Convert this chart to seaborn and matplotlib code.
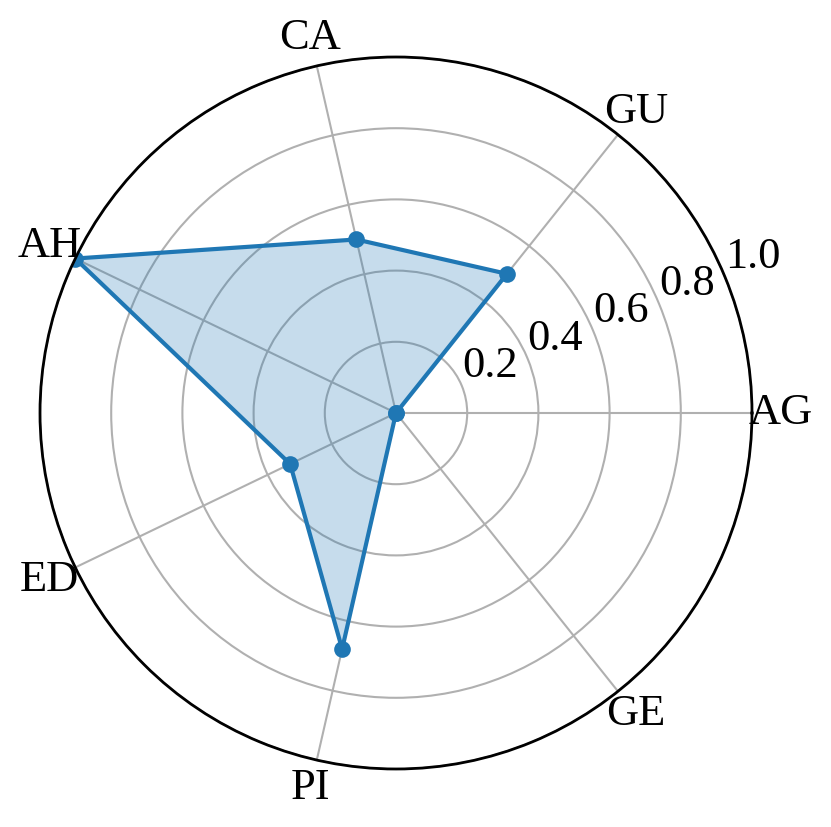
import numpy as np
import pandas as pd
import seaborn as sns
import matplotlib
matplotlib.use("Agg")
import matplotlib.pyplot as plt

categories = ["AG", "GU", "CA", "AH", "ED", "PI", "GE"]
values = [0.0, 0.5, 0.5, 1.0, 0.33, 0.68, 0.0]
r_ticks = [0.2, 0.4, 0.6, 0.8, 1.0]

sns.set_style("white")
plt.rcParams['font.family'] = ['Liberation Serif', 'DejaVu Serif']
plt.rcParams['font.size'] = 32
plt.rcParams['text.color'] = 'black'
plt.rcParams['xtick.color'] = 'black'
plt.rcParams['ytick.color'] = 'black'

angles = np.linspace(0, 2 * np.pi, len(categories), endpoint=False)
df = pd.DataFrame({
    "angle": np.append(angles, angles[0]),
    "value": values + values[:1],
})

fig = plt.figure(figsize=(8.31, 8.27), dpi=100)
ax = fig.add_axes([40 / 831, 58 / 827, 712 / 831, 712 / 827], projection="polar")

sns.lineplot(data=df, x="angle", y="value", sort=False, ax=ax,
             color="#1f77b4", linewidth=3, marker="o", markersize=12,
             markeredgewidth=0)
ax.fill(df["angle"], df["value"], color="#1f77b4", alpha=0.25, linewidth=0)

ax.set_ylim(0, 1)
ax.set_xticks(angles)
ax.set_xticklabels(categories, fontsize=32, color="black")
ax.set_yticks(r_ticks)
ax.set_yticklabels([f"{t:.1f}" for t in r_ticks], fontsize=32, color="black")
ax.set_rlabel_position(22.5)
ax.grid(True, color="#b0b0b0", linewidth=1.5)
ax.spines["polar"].set_color("black")
ax.spines["polar"].set_linewidth(2)
ax.set_xlabel("")
ax.set_ylabel("")
ax.tick_params(axis="x", pad=10)

fig.savefig("out.png", dpi=100)
